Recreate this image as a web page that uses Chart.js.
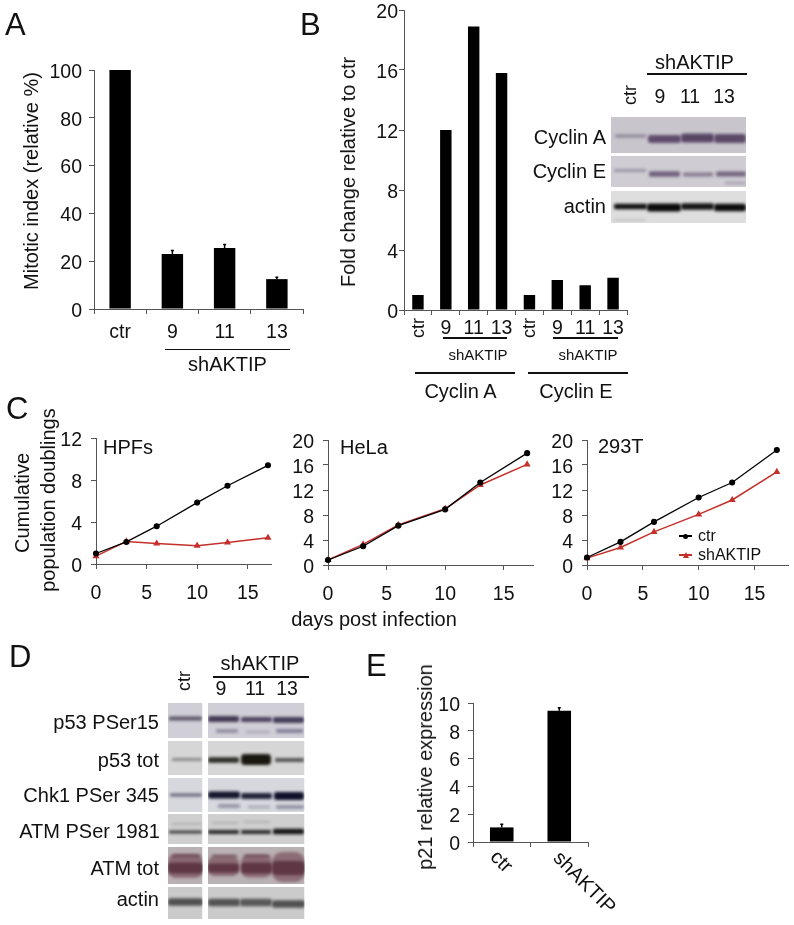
<!DOCTYPE html>
<html>
<head>
<meta charset="utf-8">
<title>AKTIP figure</title>
<script src="https://cdn.jsdelivr.net/npm/chart.js@4/dist/chart.umd.min.js"></script>
<style>
  html, body { margin: 0; padding: 0; background: #fff; }
  #page { position: relative; width: 794px; height: 925px; overflow: hidden; font-family: "Liberation Sans", Arial, sans-serif; color: #111; }
  canvas { position: absolute; }
  .t { position: absolute; white-space: nowrap; line-height: 1; }
  .rule { position: absolute; background: #111; height: 1.5px; }
</style>
</head>
<body>
<div id="page"></div>
<script>
const mitoticLabels = ["ctr", "9", "11", "13"];
const mitoticValues = [100, 23, 25.5, 12.5];
const mitoticErrors = [100, 24.5, 27, 13.3];

const cyclinLabels = ["ctr", "9", "11", "13", "ctr", "9", "11", "13"];
const cyclinValues = [1, 12, 18.9, 15.8, 1, 2, 1.65, 2.15];

const days = [0, 3, 6, 10, 13, 17];
const hpfCtr = [1, 2.1, 3.6, 5.85, 7.45, 9.4];
const hpfSh = [0.75, 2.15, 1.95, 1.75, 2.05, 2.5];
const helaCtr = [0.8, 3, 6.3, 8.9, 13.2, 17.9];
const helaSh = [0.8, 3.3, 6.4, 9, 12.8, 16.1];
const t293Ctr = [1.2, 3.7, 6.9, 10.8, 13.2, 18.4];
const t293Sh = [1.1, 2.8, 5.3, 8.1, 10.4, 14.9];

const p21Labels = ["ctr", "shAKTIP"];
const p21Values = [1.05, 9.45];
const p21Errors = [1.27, 9.65];

const INK = "#111";
const AXIS = "#555";
const RED = "#c4302b";
const FONT = "Liberation Sans";
const TOP_PAD = 30;
const page = document.getElementById("page");

// free text, placed by its centre unless align says otherwise
function txt(str, x, y, size, opts = {}) {
  const el = document.createElement("div");
  el.className = "t";
  el.textContent = str;
  el.style.fontSize = size + "px";
  el.style.left = x + "px";
  el.style.top = y + "px";
  const tx = opts.align === "right" ? "-100%" : opts.align === "left" ? "0" : "-50%";
  el.style.transform = `translate(${tx},-50%)` + (opts.rot ? ` rotate(${opts.rot}deg)` : "");
  page.appendChild(el);
}

function rule(x0, x1, y) {
  const el = document.createElement("div");
  el.className = "rule";
  el.style.left = x0 + "px";
  el.style.width = (x1 - x0) + "px";
  el.style.top = (y - 0.75) + "px";
  page.appendChild(el);
}

const errorBars = {
  id: "errorBars",
  afterDatasetsDraw(chart, args, opts) {
    if (!opts.tops) return;
    const { ctx, scales: { x, y } } = chart;
    ctx.save();
    ctx.strokeStyle = "#000";
    ctx.lineWidth = 1.5;
    opts.tops.forEach((top, i) => {
      const v = chart.data.datasets[0].data[i];
      if (top <= v) return;
      const px = x.getPixelForTick(i);
      ctx.beginPath();
      ctx.moveTo(px, y.getPixelForValue(v));
      ctx.lineTo(px, y.getPixelForValue(top));
      ctx.moveTo(px - 1.5, y.getPixelForValue(top));
      ctx.lineTo(px + 1.5, y.getPixelForValue(top));
      ctx.stroke();
    });
    ctx.restore();
  }
};

// the y labels sit a little under their ticks in the original
const nudgeLabels = {
  id: "nudgeLabels",
  beforeDraw(chart) {
    chart.scales.y.getLabelItems().forEach(item => { item.options.translation[1] += 2.5; });
  }
};

// box = plot area in page pixels
function makeCanvas(box) {
  const c = document.createElement("canvas");
  const w = box.r - box.l + 75;
  const h = box.b - box.t + TOP_PAD + 40;
  c.width = w;
  c.height = h;
  c.style.left = (box.l - 60) + "px";
  c.style.top = (box.t - TOP_PAD) + "px";
  c.style.width = w + "px";
  c.style.height = h + "px";
  page.appendChild(c);
  return c;
}

function baseScales(cfg) {
  return {
    x: {
      afterFit: s => { s.height = 40; },
      border: { color: AXIS },
      grid: { display: true, drawOnChartArea: false, tickLength: 5, color: AXIS, offset: cfg.linear ? false : true },
      ticks: Object.assign({ color: INK, font: { family: FONT, size: 19.5 }, padding: cfg.xPad, maxRotation: 0, autoSkip: false }, cfg.xTicks || {})
    },
    y: {
      min: 0,
      max: cfg.yMax,
      afterFit: s => { s.width = 60; },
      border: { color: AXIS },
      grid: { drawOnChartArea: false, tickLength: 5, color: AXIS },
      ticks: { stepSize: cfg.yStep, autoSkip: false, color: INK, font: { family: FONT, size: 19.5 }, padding: cfg.yPad }
    }
  };
}

function barChart(box, labels, values, tops, cfg) {
  new Chart(makeCanvas(box), {
    type: "bar",
    data: {
      labels,
      datasets: [{ data: values, backgroundColor: "#000", barPercentage: 0.41, categoryPercentage: 1 }]
    },
    options: {
      responsive: false,
      animation: false,
      layout: { padding: { top: TOP_PAD, right: 15, left: 0, bottom: 0 } },
      plugins: { legend: { display: false }, tooltip: { enabled: false }, errorBars: { tops } },
      scales: baseScales(cfg)
    },
    plugins: [errorBars, nudgeLabels]
  });
}

function growthChart(box, xMax, yMax, yStep, ctr, sh, xPad, yPad) {
  const scales = baseScales({ yMax, yStep, xPad, yPad, linear: true });
  scales.x.type = "linear";
  scales.x.min = 0;
  scales.x.max = xMax;
  scales.x.ticks.stepSize = 5;
  scales.x.ticks.includeBounds = false;
  new Chart(makeCanvas(box), {
    type: "line",
    data: {
      datasets: [
        {
          data: days.map((d, i) => ({ x: d, y: ctr[i] })),
          borderColor: "#000", backgroundColor: "#000", borderWidth: 1.3,
          pointStyle: "circle", pointRadius: 2.4, tension: 0, clip: false
        },
        {
          data: days.map((d, i) => ({ x: d, y: sh[i] })),
          borderColor: RED, backgroundColor: RED, borderWidth: 1.5,
          pointStyle: "triangle", pointRadius: 2.6, tension: 0, clip: false
        }
      ]
    },
    options: {
      responsive: false,
      animation: false,
      layout: { padding: { top: TOP_PAD, right: 15, left: 0, bottom: 0 } },
      plugins: { legend: { display: false }, tooltip: { enabled: false } },
      scales
    },
    plugins: [nudgeLabels]
  });
}

barChart({ l: 94, t: 70, r: 303, b: 309 }, mitoticLabels, mitoticValues, mitoticErrors,
  { yMax: 100, yStep: 20, xPad: 7, yPad: 7 });

barChart({ l: 404, t: 10, r: 627, b: 310 }, cyclinLabels, cyclinValues, null,
  { yMax: 20, yStep: 4, xPad: 2, yPad: 1,
    xTicks: { callback(v) { const s = this.getLabelForValue(v); return s === "ctr" ? "" : s; } } });

growthChart({ l: 96, t: 438, r: 271, b: 564 }, 17.3, 12, 4, hpfCtr, hpfSh, 13, 9);
growthChart({ l: 328, t: 440, r: 533, b: 565 }, 17.5, 20, 4, helaCtr, helaSh, 13, 9);
growthChart({ l: 587, t: 440, r: 788, b: 565 }, 18, 20, 4, t293Ctr, t293Sh, 13, 9);

barChart({ l: 473, t: 703, r: 588, b: 842 }, p21Labels, p21Values, p21Errors,
  { yMax: 10, yStep: 2, xPad: 7, yPad: 8, xTicks: { callback() { return ""; } } });

// western blot strips, plain pictures rather than chart data
const blotLayer = document.createElement("canvas");
blotLayer.width = 794;
blotLayer.height = 925;
page.appendChild(blotLayer);
const bctx = blotLayer.getContext("2d");

function strip(x, y, w, h, bg, bands) {
  bctx.save();
  bctx.beginPath();
  bctx.rect(x, y, w, h);
  bctx.clip();
  bctx.fillStyle = bg;
  bctx.fillRect(x, y, w, h);
  bctx.filter = "blur(1.7px)";
  bands.forEach(([x0, x1, yc, bh, color]) => {
    bctx.fillStyle = color;
    bctx.beginPath();
    bctx.roundRect(x0, yc - bh / 2, x1 - x0, bh, bh / 3);
    bctx.fill();
  });
  bctx.restore();
}

// inset of panel B
strip(611, 117, 135, 36, "#c8c5cd", [
  [615, 646, 136, 3, "#8c8496"], [648, 681, 139, 8, "#5f4c6c"],
  [681, 714, 138, 9, "#584564"], [714, 746, 138.5, 9, "#5c4a68"]
]);
strip(611, 156, 135, 31, "#cfcdd3", [
  [614, 646, 170.5, 3, "#9a94a3"], [649, 680, 174, 5.5, "#72617e"],
  [683, 713, 174.5, 4, "#887c92"], [716, 746, 174, 5, "#75657f"], [725, 746, 183, 2.5, "#a79fb0"]
]);
strip(611, 191, 135, 32, "#dedede", [
  [614, 647, 206.5, 5.5, "#111"], [647, 681, 207.5, 8, "#0a0a0a"],
  [681, 714, 206.5, 6.5, "#151515"], [714, 746, 207.5, 7.5, "#0c0c0c"], [614, 646, 220, 1.5, "#bbb"]
]);

// panel D: ctr column and the three shAKTIP lanes
const dRows = [
  [703, 35, "#d0ced6", [[169, 202, 718.5, 4, "#5a5568"], [208, 239, 719, 6, "#423a54"], [241, 272, 719.5, 5, "#4c4560"], [273, 304, 720, 6, "#443e58"],
    [216, 238, 731, 3.5, "#8e8aa0"], [246, 270, 732, 2.5, "#aaa7b5"], [276, 303, 731, 4, "#84819a"]]],
  [741, 34, "#d6d6d6", [[172, 202, 759.5, 3, "#8a8a8a"], [208, 239, 760, 5.5, "#2c2c24"], [241, 271, 759.5, 11, "#18180f"], [275, 304, 760, 4, "#555"]]],
  [778, 34, "#d7d7de", [[170, 202, 795, 3, "#63637a"], [208, 240, 795, 7, "#14142c"], [241, 272, 796, 6, "#22223a"], [274, 304, 796, 8, "#10102a"],
    [218, 240, 806, 3.5, "#9090a2"], [248, 270, 807, 2.5, "#a5a5b2"], [276, 304, 807, 3.5, "#8d8da0"]]],
  [814, 30, "#cfcfcf", [[169, 202, 832, 3, "#3c3c3c"], [208, 239, 832, 4, "#2a2a2a"], [241, 271, 832, 4, "#2c2c2c"], [273, 304, 831.5, 5.5, "#161616"],
    [172, 202, 824, 1.5, "#a5a5a5"], [212, 238, 823, 1.5, "#a5a5a5"], [244, 270, 822, 1.5, "#a5a5a5"]]],
  [847, 37, "#b9b1b3", [[168, 203, 866, 24, "#8c6c76"], [208, 239, 866, 20, "#8c6c76"], [241, 272, 866, 23, "#8c6c76"], [272, 305, 867, 30, "#8c6c76"],
    [168, 203, 868, 11, "#5e3644"], [208, 239, 868, 9, "#5e3644"], [241, 272, 868, 11, "#5e3644"], [272, 305, 868, 14, "#5e3644"],
    [172, 200, 856, 2.5, "#6e4a58"], [212, 237, 856, 2, "#6e4a58"], [244, 270, 856, 2, "#6e4a58"]]],
  [887, 32, "#cbcbcb", [[168, 203, 902, 7.5, "#505050"], [208, 240, 902.5, 7.5, "#525252"], [240, 272, 902.5, 7.5, "#585858"], [272, 305, 904, 7.5, "#505050"]]]
];
dRows.forEach(([y, h, bg, bands]) => {
  strip(168, y, 34.5, h, bg, bands.filter(b => b[0] < 204));
  strip(208, y, 96.5, h, bg, bands.filter(b => b[0] >= 204));
});

// panel letters
txt("A", 5, 24, 31, { align: "left" });
txt("B", 300, 24, 31, { align: "left" });
txt("C", 6, 408, 31, { align: "left" });
txt("D", 9, 656, 31, { align: "left" });
txt("E", 366, 665, 31, { align: "left" });

// panel A
txt("Mitotic index (relative %)", 31, 181, 20, { rot: -90 });
rule(165, 290, 349.5);
txt("shAKTIP", 227.5, 364, 20);

// panel B
txt("Fold change relative to ctr", 348, 172, 20, { rot: -90 });
txt(cyclinLabels[0], 418, 328, 18, { rot: -90 });
txt(cyclinLabels[4], 529, 328, 18, { rot: -90 });
rule(443, 507, 338);
rule(553, 618, 338);
txt("shAKTIP", 478, 354, 15);
txt("shAKTIP", 588, 354, 15);
rule(415, 515, 373);
rule(528, 628, 373);
txt("Cyclin A", 460.5, 391, 20);
txt("Cyclin E", 576, 391, 20);

txt("shAKTIP", 694.5, 62, 20);
rule(647, 747, 74);
txt("ctr", 630, 95, 18, { rot: -90 });
txt("9", 660, 97, 19.5);
txt("11", 690, 97, 19.5);
txt("13", 724, 97, 19.5);
txt("Cyclin A", 606, 137, 20, { align: "right" });
txt("Cyclin E", 606, 171, 20, { align: "right" });
txt("actin", 606, 206, 20, { align: "right" });

// panel C
txt("Cumulative", 22, 503, 20, { rot: -90 });
txt("population doublings", 48, 500, 20, { rot: -90 });
txt("HPFs", 103, 447, 20, { align: "left" });
txt("HeLa", 340, 447, 20, { align: "left" });
txt("293T", 598, 446, 20, { align: "left" });
txt("days post infection", 374, 619, 20);

// legend of the 293T plot
const legendRows = [["ctr", 536, "#000", "circle"], ["shAKTIP", 555, RED, "triangle"]];
legendRows.forEach(([name, y, color, mark]) => {
  const line = document.createElement("div");
  line.style.cssText = `position:absolute;left:679px;width:13px;top:${y - 0.75}px;height:1.5px;background:${color}`;
  page.appendChild(line);
  const dot = document.createElement("div");
  dot.style.cssText = mark === "circle"
    ? `position:absolute;left:683px;top:${y - 2.5}px;width:5px;height:5px;border-radius:50%;background:${color}`
    : `position:absolute;left:682.5px;top:${y - 3}px;width:0;height:0;border-left:3px solid transparent;border-right:3px solid transparent;border-bottom:6px solid ${color}`;
  page.appendChild(dot);
  txt(name, 698, y, 16, { align: "left" });
});

// panel D
txt("shAKTIP", 260, 663, 20);
rule(213, 309, 677);
txt("ctr", 184, 681, 18, { rot: -90 });
txt("9", 221, 689, 19.5);
txt("11", 255, 689, 19.5);
txt("13", 287, 689, 19.5);
txt("p53 PSer15", 159, 722, 20, { align: "right" });
txt("p53 tot", 159, 760, 20, { align: "right" });
txt("Chk1 PSer 345", 159, 795, 20, { align: "right" });
txt("ATM PSer 1981", 160, 831, 20, { align: "right" });
txt("ATM tot", 159, 868, 20, { align: "right" });
txt("actin", 159, 899, 20, { align: "right" });

// panel E
txt("p21 relative expression", 425, 767, 20, { rot: -90 });
txt(p21Labels[0], 502, 861, 20, { rot: 45 });
txt(p21Labels[1], 585, 882, 20, { rot: 45 });
</script>
</body>
</html>
